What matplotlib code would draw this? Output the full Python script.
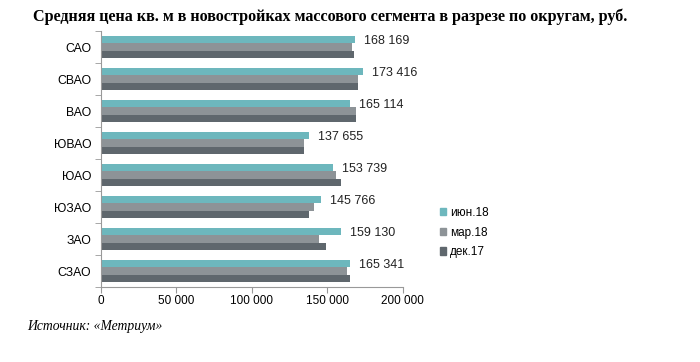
import matplotlib.pyplot as plt
import numpy as np
from matplotlib.ticker import FuncFormatter

districts = ['САО', 'СВАО', 'ВАО', 'ЮВАО', 'ЮАО', 'ЮЗАО', 'ЗАО', 'СЗАО']
jun18 = [168169, 173416, 165114, 137655, 153739, 145766, 159130, 165341]
mar18 = [166200, 170200, 169100, 134600, 155800, 141000, 144600, 162900]
dec17 = [168000, 170200, 169100, 134600, 158900, 137700, 149200, 164900]
series_names = ['июн.18', 'мар.18', 'дек.17']
colors = ['#6db7bd', '#8d9397', '#5f676d']

plt.rcParams['font.family'] = ['Liberation Sans', 'DejaVu Sans']

fig = plt.figure(figsize=(7, 3.62), dpi=100)
ax = fig.add_axes([0.1443, 0.207, 0.431, 0.707])

y = np.arange(len(districts))
h = 0.23
for i, (vals, c, name) in enumerate(zip([jun18, mar18, dec17], colors, series_names)):
    ax.barh(y + (i - 1) * h, vals, height=h, color=c, label=name)

for yi, v in zip(y, jun18):
    s = f'{v:,}'.replace(',', ' ')
    ax.text(v + 6000, yi - h + 0.04, s, va='center', ha='left', fontsize=9, color='#222222')

ax.set_xlim(0, 200000)
ax.set_ylim(len(districts) - 0.5, -0.5)
ax.set_xticks([0, 50000, 100000, 150000, 200000])
ax.xaxis.set_major_formatter(FuncFormatter(lambda v, p: f'{int(v):,}'.replace(',', ' ')))
ax.set_yticks(y)
ax.set_yticklabels(districts)
ax.set_yticks(np.arange(len(districts) + 1) - 0.5, minor=True)
ax.tick_params(axis='y', which='major', length=0, labelsize=8.8, pad=7)
ax.tick_params(axis='y', which='minor', length=4, color='#999999')
ax.tick_params(axis='x', length=4, color='#999999', labelsize=8.5, pad=2)
for side in ['top', 'right']:
    ax.spines[side].set_visible(False)
for side in ['left', 'bottom']:
    ax.spines[side].set_color('#999999')
    ax.spines[side].set_linewidth(0.8)

handles = [plt.Rectangle((0, 0), 1, 1, color=c) for c in colors]
fig.legend(handles, series_names, loc='upper left', bbox_to_anchor=(0.613, 0.458),
           frameon=False, fontsize=8.5, handlelength=0.55, handleheight=0.55,
           handletextpad=0.3, labelspacing=0.65)

fig.text(0.047, 0.955, 'Средняя цена кв. м в новостройках массового сегмента в разрезе по округам, руб.',
         family='Liberation Serif', weight='bold', fontsize=11.6, va='center', ha='left')
fig.text(0.039, 0.097, 'Источник: «Метриум»', family='Liberation Serif', style='italic',
         fontsize=9.8, va='center', ha='left')

fig.savefig('out.png', dpi=100)
